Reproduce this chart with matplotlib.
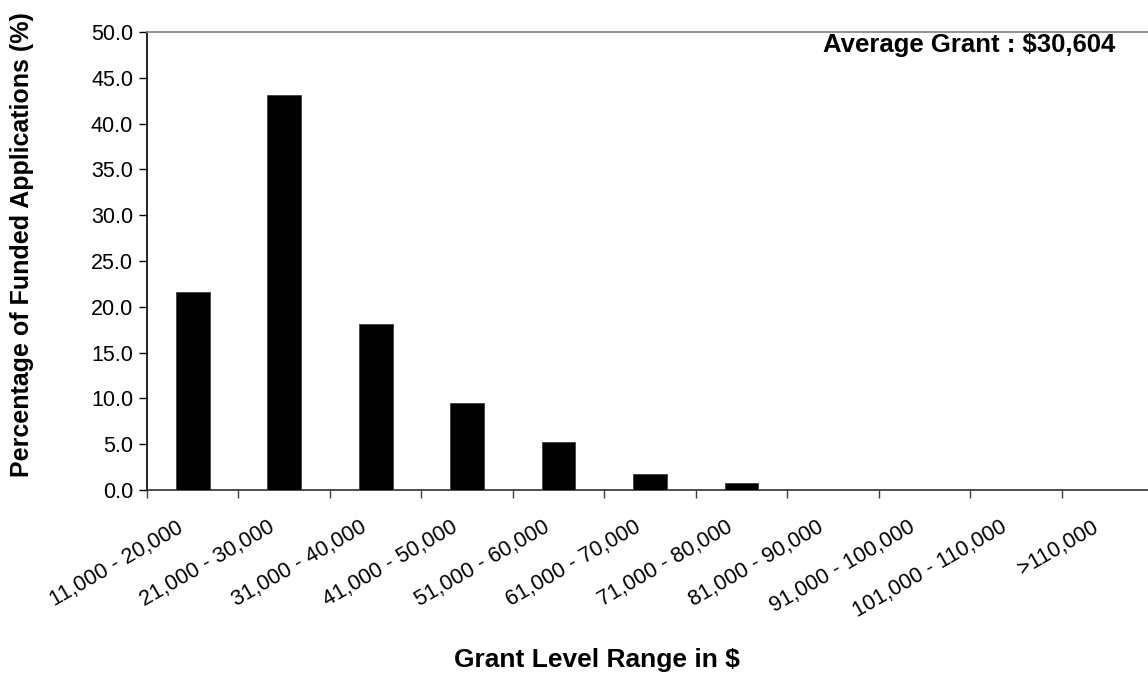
import matplotlib
matplotlib.use("Agg")
import matplotlib.pyplot as plt
import numpy as np

categories = ["11,000 - 20,000", "21,000 - 30,000", "31,000 - 40,000", "41,000 - 50,000",
              "51,000 - 60,000", "61,000 - 70,000", "71,000 - 80,000", "81,000 - 90,000",
              "91,000 - 100,000", "101,000 - 110,000", ">110,000"]
values = [21.6, 43.1, 18.1, 9.5, 5.2, 1.7, 0.8, 0.0, 0.0, 0.0, 0.0]
yticks = [0, 5, 10, 15, 20, 25, 30, 35, 40, 45, 50]

plt.rcParams['font.family'] = ['Liberation Sans', 'DejaVu Sans']

W, H = 1148, 679
fig = plt.figure(figsize=(W/100, H/100), dpi=100)
left, right, top, bottom = 147, 1153, 32, 490
ax = fig.add_axes([left/W, 1-bottom/H, (right-left)/W, (bottom-top)/H])

x = np.arange(len(categories))
ax.bar(x, values, width=0.37, color='black', edgecolor='#404040', linewidth=0.6, zorder=3)

ax.set_xlim(-0.5, len(categories)-0.5)
ax.set_ylim(0, 50)
ax.set_yticks(yticks)
ax.set_yticklabels([f"{v:.1f}" for v in yticks], fontsize=15.5)

ax.set_xticks(np.arange(len(categories)+1) - 0.5)
ax.set_xticklabels([])
ax.tick_params(axis='x', length=6, width=1, color='#404040', direction='out')
ax.tick_params(axis='y', length=6, width=1, color='black', direction='out', pad=4)

for i, c in enumerate(categories):
    ax.annotate(c, xy=(i, 0), xycoords=('data', 'axes fraction'),
                xytext=(-11.5, -19.5), textcoords='offset points',
                rotation=30, ha='right', va='top', rotation_mode='anchor',
                fontsize=15.5)

ax.spines['left'].set_color('black')
ax.spines['left'].set_linewidth(1.2)
ax.spines['bottom'].set_color('#303030')
ax.spines['bottom'].set_linewidth(1.2)
ax.spines['top'].set_color('#808080')
ax.spines['top'].set_linewidth(1.2)
ax.spines['right'].set_visible(False)

ax.text((1115-left)/(right-left), 1-(45-top)/(bottom-top), "Average Grant : $30,604",
        transform=ax.transAxes, ha='right', va='center', fontsize=18.5, fontweight='bold')

fig.text(597/W, 1-660/H, "Grant Level Range in $", ha='center', va='center',
         fontsize=19, fontweight='bold')
fig.text(22/W, 1-245/H, "Percentage of Funded Applications (%)", ha='center', va='center',
         rotation=90, fontsize=18, fontweight='bold')

fig.savefig("out.png", dpi=100)
